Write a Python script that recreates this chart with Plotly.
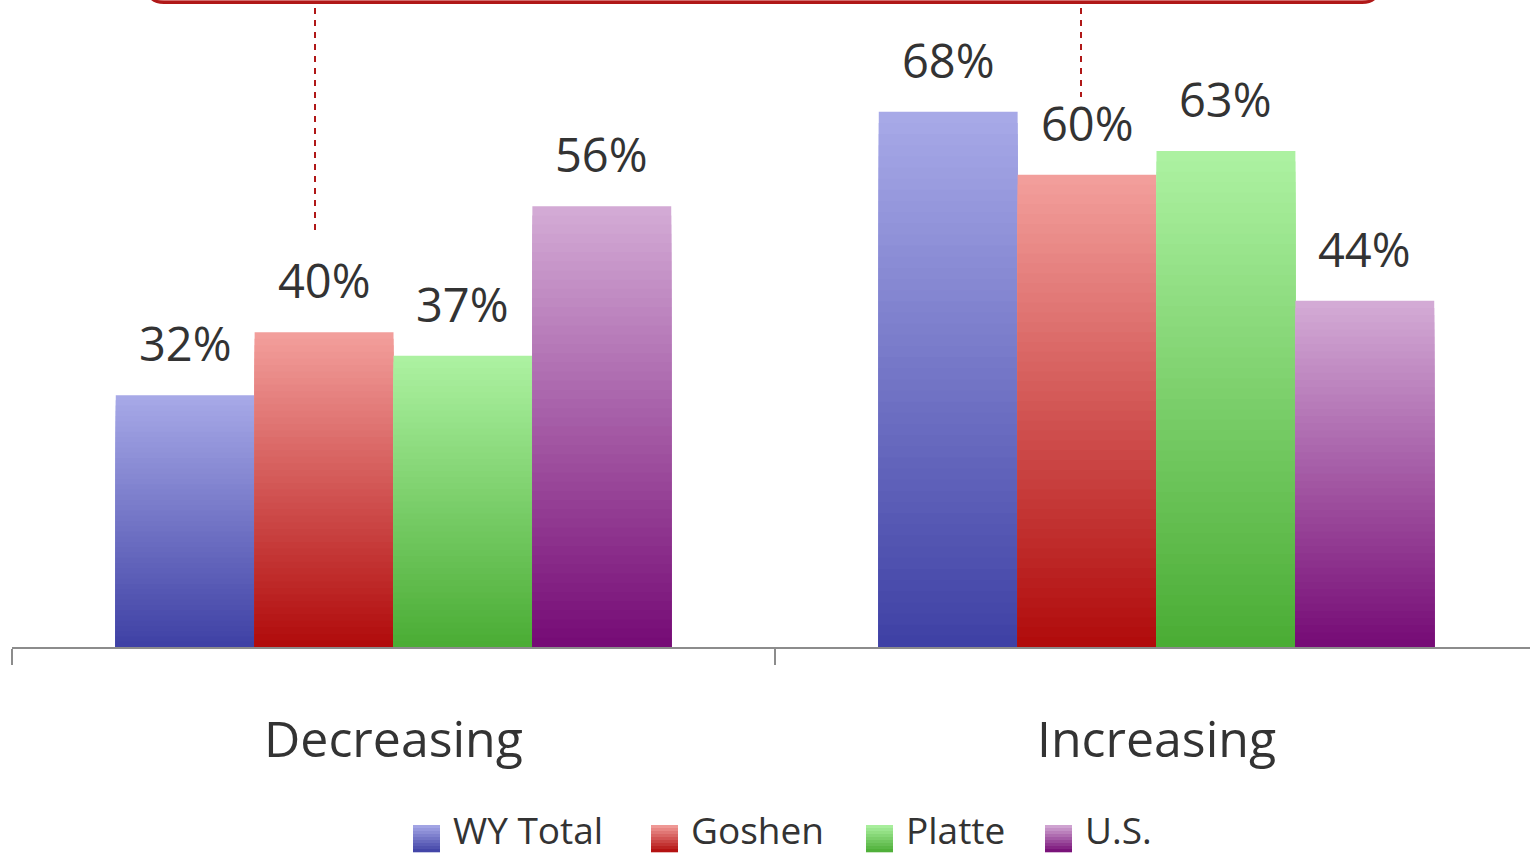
import plotly.graph_objects as go

# ---- data ----
categories = ["Decreasing", "Increasing"]
series_names = ["WY Total", "Goshen", "Platte", "U.S."]
wy_total = [32, 68]
goshen = [40, 60]
platte = [37, 63]
us = [56, 44]
series_values = [wy_total, goshen, platte, us]

# ---- style ----
top_colors = [(168, 170, 232), (243, 160, 157), (173, 242, 162), (212, 172, 214)]
bottom_colors = [(62, 64, 164), (176, 10, 10), (74, 172, 52), (117, 10, 117)]
FONT = "Open Sans"
TEXT_COLOR = "#333333"
N_BANDS = 48
BAR_W = 0.182
GROUP_START = -0.364
PX_PER_UNIT = 763.0

W, H = 1530, 854
ML, MR, MT, MB = 12, 0, 0, 207
PLOT_H = H - MT - MB
Y_MAX = 82.2
X_MAX = -0.5 + (W - ML - MR) / PX_PER_UNIT


def mix(c1, c2, t):
    return "rgb(%d,%d,%d)" % tuple(round(a + (b - a) * t) for a, b in zip(c1, c2))


fig = go.Figure()

for si, (name, vals) in enumerate(zip(series_names, series_values)):
    off = GROUP_START + si * BAR_W
    for k in range(N_BANDS, 0, -1):
        frac = k / N_BANDS
        t = (k - 0.5) / N_BANDS  # 0 bottom -> 1 top
        fig.add_trace(go.Bar(
            x=categories,
            y=[v * frac for v in vals],
            width=BAR_W,
            offset=off,
            marker=dict(color=mix(bottom_colors[si], top_colors[si], t), line=dict(width=0)),
            name=name,
            legendgroup=name,
            showlegend=False,
            hoverinfo="skip" if k != N_BANDS else None,
            hovertemplate=None if k != N_BANDS else name + ": %{y}%<extra></extra>",
        ))
    # value labels
    for ci, cat in enumerate(categories):
        fig.add_annotation(
            x=cat, y=vals[ci], xref="x", yref="y",
            xshift=(off + BAR_W / 2) * PX_PER_UNIT,
            yshift=18, yanchor="bottom", xanchor="center",
            text=f"{vals[ci]}%", showarrow=False,
            font=dict(family=FONT, size=47, color=TEXT_COLOR),
        )


def px_to_paper_x(px):
    return (px - ML) / (W - ML - MR)


def px_to_paper_y(py):
    return (MT + PLOT_H - py) / PLOT_H


# ---- custom legend ----
legend_sq_x = [413, 651, 866, 1045]
SQ = 27
SQ_TOP = 825
NB = 9
for si, name in enumerate(series_names):
    x0 = legend_sq_x[si]
    for b in range(NB):
        y0 = SQ_TOP + SQ * b / NB
        y1 = SQ_TOP + SQ * (b + 1) / NB
        t = 1 - (b + 0.5) / NB
        fig.add_shape(
            type="rect", xref="paper", yref="paper",
            x0=px_to_paper_x(x0), x1=px_to_paper_x(x0 + SQ),
            y0=px_to_paper_y(y1 + 0.3), y1=px_to_paper_y(y0),
            fillcolor=mix(bottom_colors[si], top_colors[si], t),
            line=dict(width=0), layer="above",
        )
    fig.add_annotation(
        x=px_to_paper_x(x0 + SQ + 11), y=px_to_paper_y(829),
        xref="paper", yref="paper", xanchor="left", yanchor="middle",
        text=name, showarrow=False,
        font=dict(family=FONT, size=37, color=TEXT_COLOR),
    )

# ---- callout box and dashed leaders ----
bx0, bx1, by_bot, r = 148, 1378, 2, 16
box_path = (
    f"M {px_to_paper_x(bx0)},{px_to_paper_y(-40)} "
    f"L {px_to_paper_x(bx0)},{px_to_paper_y(by_bot - r)} "
    f"Q {px_to_paper_x(bx0)},{px_to_paper_y(by_bot)} {px_to_paper_x(bx0 + r)},{px_to_paper_y(by_bot)} "
    f"L {px_to_paper_x(bx1 - r)},{px_to_paper_y(by_bot)} "
    f"Q {px_to_paper_x(bx1)},{px_to_paper_y(by_bot)} {px_to_paper_x(bx1)},{px_to_paper_y(by_bot - r)} "
    f"L {px_to_paper_x(bx1)},{px_to_paper_y(-40)}"
)
fig.add_shape(type="path", xref="paper", yref="paper", path=box_path,
              line=dict(color="#B01818", width=4), layer="above")
fig.add_shape(type="path", xref="paper", yref="paper", path=box_path.replace(
    f"{px_to_paper_y(by_bot)}", f"{px_to_paper_y(by_bot - 2)}"),
    line=dict(color="#E08A8A", width=1.5), layer="above")

for lx, ly in [(315, 233), (1081, 97)]:
    fig.add_shape(type="line", xref="paper", yref="paper",
                  x0=px_to_paper_x(lx), x1=px_to_paper_x(lx),
                  y0=px_to_paper_y(8), y1=px_to_paper_y(ly),
                  line=dict(color="#B01818", width=2, dash="6px,6px"), layer="above")

fig.update_layout(
    width=W, height=H,
    margin=dict(l=ML, r=MR, t=MT, b=MB),
    paper_bgcolor="white", plot_bgcolor="white",
    barmode="overlay",
    showlegend=False,
    font=dict(family=FONT, color=TEXT_COLOR),
    xaxis=dict(
        type="category", range=[-0.5, X_MAX],
        showline=True, linecolor="#8c8c8c", linewidth=2,
        ticks="outside", tickson="boundaries", ticklen=16, tickwidth=2, tickcolor="#8c8c8c",
        tickfont=dict(family=FONT, size=50, color=TEXT_COLOR),
        ticklabelstandoff=48,
        showgrid=False, zeroline=False, fixedrange=True,
    ),
    yaxis=dict(range=[0, Y_MAX], visible=False, fixedrange=True),
)

fig.write_html("out.html", config={"displayModeBar": False},
               post_script="document.body.style.margin='0';")
